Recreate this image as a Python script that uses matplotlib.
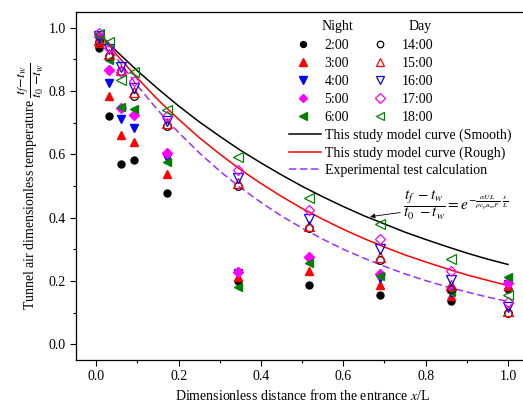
import numpy as np
import matplotlib as mpl
mpl.use("Agg")
import matplotlib.pyplot as plt
from matplotlib.ticker import MultipleLocator, AutoMinorLocator

mpl.rcParams['font.family'] = 'serif'
mpl.rcParams['font.serif'] = ['Liberation Serif', 'DejaVu Serif']
mpl.rcParams['mathtext.fontset'] = 'stix'
mpl.rcParams['font.size'] = 10

# ---------------- data ----------------
x_pos = [0.006, 0.032, 0.061, 0.092, 0.172, 0.345, 0.517, 0.689, 0.862, 1.0]

night_labels = ["2:00", "3:00", "4:00", "5:00", "6:00"]
t0200 = [0.937, 0.720, 0.571, 0.581, 0.479, 0.200, 0.186, 0.155, 0.137, 0.175]
t0300 = [0.953, 0.783, 0.660, 0.639, 0.539, 0.213, 0.230, 0.186, 0.153, 0.183]
t0400 = [0.965, 0.827, 0.713, 0.684, 0.589, 0.225, 0.266, 0.210, 0.163, 0.190]
t0500 = [0.975, 0.867, 0.745, 0.725, 0.605, 0.229, 0.277, 0.223, 0.170, 0.192]
t0600 = [0.968, 0.898, 0.751, 0.743, 0.576, 0.181, 0.256, 0.216, 0.165, 0.213]

day_labels = ["14:00", "15:00", "16:00", "17:00", "18:00"]
t1400 = [0.955, 0.912, 0.862, 0.785, 0.689, 0.500, 0.368, 0.265, 0.174, 0.098]
t1500 = [0.960, 0.918, 0.866, 0.796, 0.698, 0.508, 0.374, 0.277, 0.186, 0.104]
t1600 = [0.975, 0.933, 0.875, 0.811, 0.705, 0.526, 0.395, 0.300, 0.202, 0.118]
t1700 = [0.985, 0.937, 0.860, 0.832, 0.721, 0.551, 0.423, 0.334, 0.231, 0.132]
t1800 = [0.982, 0.955, 0.835, 0.859, 0.740, 0.592, 0.461, 0.381, 0.268, 0.155]

curve_x = [0.006, 0.05, 0.10, 0.15, 0.20, 0.25, 0.30, 0.35, 0.40, 0.45, 0.50,
           0.55, 0.60, 0.65, 0.70, 0.75, 0.80, 0.85, 0.90, 0.95, 1.00]
smooth_curve = [0.982, 0.925, 0.864, 0.807, 0.753, 0.703, 0.657, 0.613, 0.573, 0.535, 0.499,
                0.466, 0.435, 0.406, 0.380, 0.354, 0.331, 0.309, 0.288, 0.269, 0.252]
rough_curve = [0.985, 0.914, 0.841, 0.772, 0.711, 0.653, 0.601, 0.552, 0.508, 0.467, 0.429,
               0.395, 0.363, 0.334, 0.307, 0.282, 0.260, 0.239, 0.219, 0.202, 0.185]
exp_curve = [0.986, 0.903, 0.817, 0.739, 0.669, 0.605, 0.547, 0.495, 0.448, 0.405, 0.367,
             0.332, 0.300, 0.272, 0.246, 0.222, 0.201, 0.182, 0.165, 0.149, 0.135]

night_series = [t0200, t0300, t0400, t0500, t0600]
day_series = [t1400, t1500, t1600, t1700, t1800]

# ---------------- styles ----------------
colors = ["black", "#FF0000", "#0000FF", "#FF00FF", "#008000"]
markers = ["o", "^", "v", "D", "<"]
msizes = [5.0, 6.0, 6.0, 5.0, 6.0]

W, H = 523, 407
fig = plt.figure(figsize=(W / 100, H / 100), dpi=100)
ax = fig.add_axes([75.7 / W, 47 / H, (528.6 - 75.7) / W, 348 / H])

l_smooth, = ax.plot(curve_x, smooth_curve, color="black", lw=1.1, zorder=2,
                    label="This study model curve (Smooth)")
l_rough, = ax.plot(curve_x, rough_curve, color="#FF0000", lw=1.1, zorder=2,
                   label="This study model curve (Rough)")
l_exp, = ax.plot(curve_x, exp_curve, color="#9B30FF", lw=1.1, ls=(0, (4.8, 2.4)), zorder=2,
                 label="Experimental test calculation")

night_h = []
for vals, lab, c, m, s in zip(night_series, night_labels, colors, markers, msizes):
    h, = ax.plot(x_pos, vals, ls="none", marker=m, ms=s, color=c, mec=c, zorder=3, label=lab)
    night_h.append(h)
day_h = []
for vals, lab, c, m, s in zip(day_series, day_labels, colors, markers, msizes):
    h, = ax.plot(x_pos, vals, ls="none", marker=m, ms=s + 0.5, mfc="none", mec=c, mew=0.9,
                 zorder=3, label=lab)
    day_h.append(h)

# ---------------- axes ----------------
ax.set_xlim(-0.05, 1.05)
ax.set_ylim(-0.05, 1.05)
ax.xaxis.set_major_locator(MultipleLocator(0.2))
ax.yaxis.set_major_locator(MultipleLocator(0.2))
ax.xaxis.set_minor_locator(AutoMinorLocator(2))
ax.yaxis.set_minor_locator(AutoMinorLocator(2))
ax.xaxis.set_major_formatter(mpl.ticker.FormatStrFormatter("%.1f"))
ax.yaxis.set_major_formatter(mpl.ticker.FormatStrFormatter("%.1f"))
ax.tick_params(which="major", direction="out", length=4, width=0.8, labelsize=10, pad=3)
ax.tick_params(which="minor", direction="out", length=2.5, width=0.8)
ax.tick_params(top=False, right=False, which="both")
for sp in ax.spines.values():
    sp.set_linewidth(0.9)

ax.set_xlabel(r"Dimensionless distance from the entrance $x$/L", fontsize=10, labelpad=4)
ax.set_ylabel(r"Tunnel air dimensionless temperature $\dfrac{t_f\mathrm{-}t_w}{t_0\ \mathrm{-}t_w}$",
              fontsize=10, labelpad=2)

# ---------------- legends ----------------
leg1 = ax.legend(handles=night_h + day_h, ncol=2, loc="upper left",
                 bbox_to_anchor=(296 / W, 1 - 39 / H), bbox_transform=fig.transFigure,
                 frameon=False, fontsize=10, handlelength=1.0, handletextpad=1.05,
                 columnspacing=1.75, labelspacing=0.36, borderpad=0, borderaxespad=0,
                 markerscale=0.85)
ax.add_artist(leg1)
ax.legend(handles=[l_smooth, l_rough, l_exp], loc="upper left",
          bbox_to_anchor=(289 / W, 1 - 129 / H), bbox_transform=fig.transFigure,
          frameon=False, fontsize=10, handlelength=2.3, handletextpad=0.3,
          labelspacing=0.3, borderpad=0, borderaxespad=0)

fig.text(337.5 / W, 1 - 26.7 / H, "Night", ha="center", va="center", fontsize=10)
fig.text(420.5 / W, 1 - 26.7 / H, "Day", ha="center", va="center", fontsize=10)

# ---------------- annotation ----------------
ax.annotate(r"$\dfrac{t_f\ -t_w}{t_0\ -t_w}=e^{-\frac{\alpha UL}{\rho c_p u_m F}\ \frac{x}{L}}$",
            xy=(0.665, 0.403), xytext=(0.745, 0.44), ha="left", va="center", fontsize=11,
            arrowprops=dict(arrowstyle="-|>", color="black", lw=0.6, mutation_scale=7,
                            shrinkA=0, shrinkB=0))

fig.savefig("out.png", dpi=100)
